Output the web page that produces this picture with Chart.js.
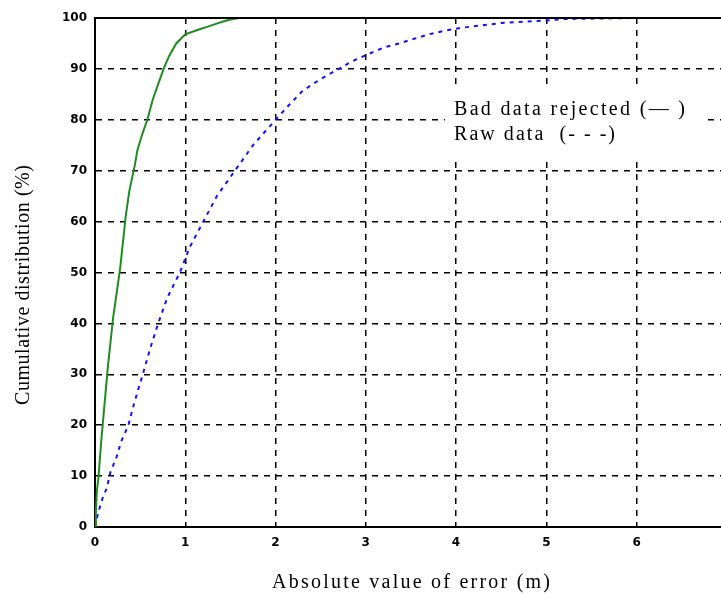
<!DOCTYPE html>
<html><head><meta charset="utf-8">
<script src="https://cdn.jsdelivr.net/npm/chart.js@4/dist/chart.umd.min.js"></script>
<style>html,body{margin:0;padding:0;background:#fff;overflow:hidden;}#wrap{width:740px;height:594px;}</style>
</head><body><div id="wrap"><canvas id="c" width="740" height="594"></canvas></div>
<script>
const xTicks = [0,1,2,3,4,5,6,7];
const yTicks = [0,10,20,30,40,50,60,70,80,90,100];
const rejectedX = [0,0.01,0.02,0.04,0.055,0.07,0.085,0.1,0.12,0.14,0.17,0.2,0.24,0.28,0.31,0.34,0.38,0.44,0.47,0.52,0.58,0.64,0.7,0.76,0.82,0.9,1.0,1.08,1.16,1.25,1.33,1.42,1.5,1.6,2.0];
const rejectedY = [0,3,7,10,13.6,17,20,23,27,31,36,41,46,51,56,61,66,71,74,77,80,84,87,90,92.5,95,96.8,97.3,97.8,98.3,98.8,99.3,99.7,100,100];
const rawX = [0,0.02,0.055,0.09,0.13,0.17,0.24,0.29,0.37,0.42,0.47,0.53,0.61,0.7,0.8,0.94,1.05,1.2,1.35,1.55,1.75,2.0,2.15,2.3,2.5,2.7,2.85,3.04,3.2,3.37,3.55,3.7,3.85,4.03,4.25,4.5,4.75,5.0,5.2,6,7];
const rawY = [0,1.7,4,6,7.6,10.7,13.8,16.8,20,23.4,26.5,30,35,40,45,50,55,60,65,70,75,80,82.9,85.7,88,90,91.5,93,94.2,95,96,96.8,97.4,98,98.5,99,99.3,99.5,99.8,100,100];

const toPts = (xs, ys) => xs.map((x, i) => ({x: x, y: ys[i]}));

function fitText(ctx, text, x, y, width) {
  ctx.letterSpacing = '0px';
  const w = ctx.measureText(text).width;
  const ls = Math.max(0, (width - w) / (text.length - 1));
  ctx.letterSpacing = ls + 'px';
  ctx.fillText(text, x, y);
  ctx.letterSpacing = '0px';
}

const overlay = {
  id: 'overlay',
  beforeDatasetsDraw(chart) {
    const ctx = chart.ctx;
    ctx.save();
    ctx.fillStyle = '#fff';
    ctx.fillRect(445, 88, 260, 72);
    ctx.restore();
  },
  afterDraw(chart) {
    const ctx = chart.ctx, a = chart.chartArea;
    ctx.save();
    ctx.strokeStyle = '#000';
    ctx.lineWidth = 2;
    ctx.beginPath();
    ctx.moveTo(a.left, a.top); ctx.lineTo(a.right + 20, a.top);
    ctx.stroke();
    ctx.fillStyle = '#000';
    ctx.textAlign = 'left';
    ctx.textBaseline = 'alphabetic';
    ctx.font = '20px "Liberation Serif"';
    fitText(ctx, 'Absolute value of error (m)', 272, 588, 278);
    fitText(ctx, 'Bad data rejected (\u2014 )', 454, 115, 231);
    fitText(ctx, 'Raw data  (- - -)', 454, 140, 161);
    ctx.save();
    ctx.translate(29, 405);
    ctx.rotate(-Math.PI / 2);
    ctx.font = '20px "Liberation Serif"';
    fitText(ctx, 'Cumulative distribution (%)', 0, 0, 240);
    ctx.restore();
    ctx.restore();
  }
};

new Chart(document.getElementById('c'), {
  type: 'scatter',
  data: {
    datasets: [
      { label: 'Bad data rejected', data: toPts(rejectedX, rejectedY), showLine: true, borderColor: '#1e8c1e', borderWidth: 2, pointRadius: 0, tension: 0, order: 1 },
      { label: 'Raw data', data: toPts(rawX, rawY), showLine: true, borderColor: '#1010ff', borderWidth: 2, borderDash: [4, 5], pointRadius: 0, tension: 0, order: 2 }
    ]
  },
  plugins: [overlay],
  options: {
    responsive: false,
    animation: false,
    events: [],
    layout: { padding: { top: 18, right: 11, left: 0, bottom: 0 } },
    plugins: { legend: { display: false }, tooltip: { enabled: false } },
    scales: {
      x: {
        type: 'linear', min: 0, max: 7,
        afterBuildTicks: s => { s.ticks = xTicks.map(v => ({value: v})); },
        afterFit: s => { s.height = 67; },
        border: { display: true, color: '#000', width: 2, dash: [6, 6] },
        grid: { color: '#000', lineWidth: 1.5, tickLength: 0, drawTicks: false },
        ticks: { color: '#000', font: { family: 'DejaVu Sans', size: 12, weight: 'bold' }, padding: 9, autoSkip: false, maxRotation: 0,
                 callback: v => String(v) }
      },
      y: {
        type: 'linear', min: 0, max: 100,
        afterBuildTicks: s => { s.ticks = yTicks.map(v => ({value: v})); },
        afterFit: s => { s.width = 95; },
        border: { display: true, color: '#000', width: 2, dash: [6, 6] },
        grid: { color: '#000', lineWidth: 1.5, tickLength: 0, drawTicks: false },
        ticks: { color: '#000', font: { family: 'DejaVu Sans', size: 12, weight: 'bold' }, padding: 8, autoSkip: false,
                 callback: v => String(v) }
      }
    }
  }
});
</script>
</body></html>
